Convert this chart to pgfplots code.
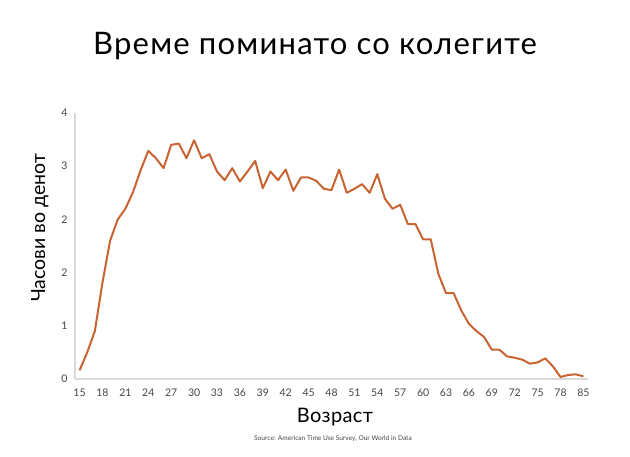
\documentclass[border=0pt]{standalone}
\usepackage{pgfplots}
\pgfplotsset{compat=1.18}
\usepackage{fontspec}
\setmainfont{Lato}
\definecolor{linec}{RGB}{200,100,50}
\definecolor{axc}{RGB}{217,217,217}
\definecolor{tickc}{RGB}{70,70,70}
\begin{document}
\begin{tikzpicture}[x=1pt,y=1pt]
\path[use as bounding box] (0,0) rectangle (630,457);
\begin{axis}[
  at={(75pt,78pt)}, anchor=south west,
  scale only axis, width=513pt, height=266pt,
  xmin=-0.6, xmax=66.6, ymin=0, ymax=4,
  axis x line*=bottom, axis y line*=left,
  axis line style={axc, line width=1.5pt, -},
  major tick length=0pt,
  xtick={0,3,...,66},
  xticklabels={15,18,21,24,27,30,33,36,39,42,45,48,51,54,57,60,63,66,69,72,75,78,85},
  ytick={0,0.8,1.6,2.4,3.2,4},
  yticklabels={0,1,2,2,3,4},
  tick label style={font=\fontsize{10.5}{12}\selectfont, text=tickc},
  xticklabel style={yshift=-6pt},
  yticklabel style={xshift=-4pt},
  clip=false,
]
\addplot[linec, line width=2pt, line join=round] table[x=i, y=v] {
i v
0 0.13
1 0.40
2 0.72
3 1.45
4 2.08
5 2.40
6 2.56
7 2.81
8 3.14
9 3.43
10 3.32
11 3.17
12 3.52
13 3.54
14 3.32
15 3.59
16 3.32
17 3.38
18 3.12
19 2.99
20 3.17
21 2.97
22 3.12
23 3.28
24 2.87
25 3.12
26 2.99
27 3.15
28 2.83
29 3.03
30 3.03
31 2.98
32 2.86
33 2.84
34 3.15
35 2.80
36 2.86
37 2.93
38 2.80
39 3.08
40 2.71
41 2.56
42 2.62
43 2.33
44 2.33
45 2.10
46 2.10
47 1.58
48 1.29
49 1.29
50 1.03
51 0.83
52 0.72
53 0.63
54 0.44
55 0.44
56 0.34
57 0.32
58 0.29
59 0.23
60 0.25
61 0.31
62 0.19
63 0.03
64 0.06
65 0.07
66 0.04
};
\end{axis}
\node[anchor=base, inner sep=0pt, font=\fontsize{31}{36}\selectfont\addfontfeature{LetterSpace=4}] at (315,402) {Време поминато со колегите};
\node[anchor=base, inner sep=0pt, rotate=90, font=\fontsize{19.5}{23}\selectfont] at (45,229) {Часови во денот};
\node[anchor=base, inner sep=0pt, font=\fontsize{20}{24}\selectfont\addfontfeature{LetterSpace=2}] at (335,34) {Возраст};
\node[anchor=base, inner sep=0pt, font=\fontsize{6.6}{8}\selectfont, text=tickc] at (333,16) {Source: American Time Use Survey, Our World in Data};
\end{tikzpicture}
\end{document}
